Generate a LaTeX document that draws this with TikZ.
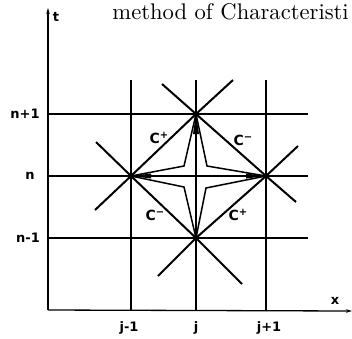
\documentclass[tikz,border=0pt]{standalone}
\usepackage{fontspec}
\newfontfamily\lblfont{DejaVu Sans}
\usetikzlibrary{arrows.meta,calc}
\newcommand{\csup}[1]{\raisebox{4.5pt}{\fontsize{10}{10}\selectfont #1}}
\tikzset{
  gridline/.style={line width=1.1pt},
  axisline/.style={line width=1.3pt,-{Stealth[length=6pt,width=3.5pt]}},
  charline/.style={line width=2pt},
  starline/.style={line width=1.5pt,line join=miter,miter limit=20},
  lbl/.style={font=\lblfont\bfseries\fontsize{13}{14}\selectfont,inner sep=0pt},
  clbl/.style={font=\lblfont\bfseries\fontsize{14}{15}\selectfont,inner sep=0pt},
}
\begin{document}
\begin{tikzpicture}[x=1pt,y=-1pt]
\useasboundingbox (0,0) rectangle (352,338);
% coordinates
\coordinate (O) at (48,310);
\coordinate (Ttop) at (48,8);
\coordinate (Xend) at (352,311);
\foreach \nm/\xx in {jm/131,j/196,jp/266}{
  \coordinate (\nm-top) at (\xx,80);
  \coordinate (\nm-bot) at (\xx,310);
}
\foreach \nm/\yy in {np/114,n/176,nm/238}{
  \coordinate (\nm-left) at (48,\yy);
  \coordinate (\nm-right) at (308,\yy);
}
\coordinate (T) at (196,114);
\coordinate (B) at (196,238);
\coordinate (L) at (131,176);
\coordinate (R) at (266,176);
\coordinate (C) at (196,176);
% extension ends
\coordinate (A1) at (95,210);
\coordinate (A2) at (233,80);
\coordinate (B1) at (162,84);
\coordinate (B2) at (296,202);
\coordinate (C1) at (96,142);
\coordinate (C2) at (242,284);
\coordinate (D1) at (158,276);
\coordinate (D2) at (298,146);
% axes
\draw[axisline] (O) -- (Ttop);
\draw[axisline] (O) -- (Xend);
% grid
\foreach \nm in {jm,j,jp}{\draw[gridline] (\nm-bot) -- (\nm-top);}
\foreach \nm in {np,n,nm}{\draw[gridline] (\nm-left) -- (\nm-right);}
% characteristics
\draw[charline] (A1) -- (L) -- (T) -- (A2);
\draw[charline] (B1) -- (T) -- (R) -- (B2);
\draw[charline] (C1) -- (L) -- (B) -- (C2);
\draw[charline] (D1) -- (B) -- (R) -- (D2);
% star
\draw[starline] (T) -- ($(C)+(11,-10)$) -- (R) -- ($(C)+(10,12)$) -- (B) -- ($(C)+(-12,11)$) -- (L) -- ($(C)+(-12,-10)$) -- cycle;
\fill (T) -- ($(T)+(-3,20)$) -- ($(T)+(3,20)$) -- cycle;
\fill (L) -- ($(L)+(20,-2.5)$) -- ($(L)+(20,2.5)$) -- cycle;
\fill (R) -- ($(R)+(-20,-2.5)$) -- ($(R)+(-20,2.5)$) -- cycle;
% labels
\node[lbl] (tl) at (56,17) {t};
\node[lbl] (xl) at (335,301) {x};
\node[lbl] (lnp) at (25,114) {n+1};
\node[lbl] (ln) at (30,176) {n};
\node[lbl] (lnm) at (28,238) {n-1};
\node[lbl] (ljm) at (129,328) {j-1};
\node[lbl] (lj) at (196,328) {j};
\node[lbl] (ljp) at (269,328) {j+1};
\node[clbl] (c1) at (159,138) {C\csup{+}};
\node[clbl] (c2) at (243,140) {C\csup{−}};
\node[clbl] (c3) at (155,215) {C\csup{−}};
\node[clbl] (c4) at (238,215) {C\csup{+}};
\node[anchor=base west,inner sep=0pt,font=\fontsize{10}{12}\selectfont,scale=2.26,transform shape] (title) at (112,19) {method of Characteristi};
\end{tikzpicture}
\end{document}
